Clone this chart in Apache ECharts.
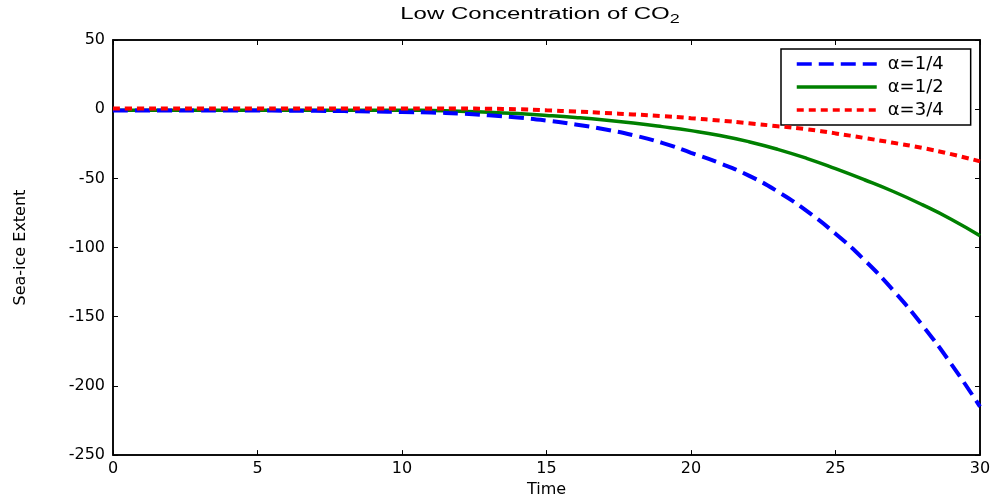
<!DOCTYPE html>
<html>
<head>
<meta charset="utf-8">
<script src="https://cdn.jsdelivr.net/npm/echarts@6/dist/echarts.min.js"></script>
<style>html,body{margin:0;padding:0;background:#fff}#c{width:997px;height:503px}</style>
</head>
<body>
<div id="c"></div>
<script>
var times = [0,1,2,3,4,5,6,7,8,9,10,11,12,13,14,15,16,17,18,19,20,21,22,23,24,25,26,27,28,29,30];
var alphaQuarter = [-1,-1,-1,-1,-1,-1,-1.1,-1.2,-1.4,-1.7,-2,-2.4,-3.2,-4.4,-6,-8.2,-11,-14.5,-18.8,-24.3,-31.5,-39,-48,-59.5,-73.5,-90,-109,-131,-156,-184,-215];
var alphaHalf = [-0.7,-0.7,-0.7,-0.7,-0.7,-0.7,-0.7,-0.7,-0.7,-0.7,-0.7,-1,-1.5,-2.2,-3.2,-4.5,-6,-7.8,-10,-12.6,-15.5,-19,-23.5,-29,-35.5,-43,-51,-59.5,-69,-79.5,-91.5];
var alphaThreeQuarter = [0.5,0.5,0.5,0.5,0.5,0.5,0.5,0.5,0.5,0.5,0.5,0.5,0.5,0.3,0,-0.8,-1.7,-2.7,-3.8,-5,-6.5,-8.2,-10.2,-12.3,-14.5,-17.5,-20.8,-24.3,-28,-32.5,-37.7];
var seriesNames = ['\u03b1=1/4', '\u03b1=1/2', '\u03b1=3/4'];
var xTicks = [0,5,10,15,20,25,30];
var yTicks = [-250,-200,-150,-100,-50,0,50];
var titleText = 'Low Concentration of CO';
var titleSub = '2';

function pairs(vals){ return times.map(function(t,i){ return [t, vals[i]]; }); }

var font = 'Liberation Sans, Arial, Helvetica, sans-serif';
var tickFont = 'DejaVu Sans, sans-serif';
var chart = echarts.init(document.getElementById('c'), null, {renderer:'canvas'});
var axisCommon = {
  axisLine:{show:true, onZero:false, lineStyle:{color:'#000', width:1.5}},
  axisTick:{show:true, inside:true, length:5, lineStyle:{color:'#000', width:1}},
  splitLine:{show:false}
};
chart.setOption({
  animation:false,
  backgroundColor:'#fff',
  graphic:[{
    type:'text', x:540, y:15, scaleX:1.5, scaleY:1, z:10,
    style:{
      text:titleText + '{sub|' + titleSub + '}',
      font:'16px ' + font, fill:'#000', align:'center', verticalAlign:'middle',
      rich:{sub:{fontFamily:font, fontSize:12, fill:'#000', padding:[9,0,0,0]}}
    }
  }],
  grid:{left:113, right:17, top:40, bottom:44, show:true, borderColor:'#000', borderWidth:1.5, containLabel:false},
  legend:{
    orient:'vertical', left:781, top:49,
    data:seriesNames,
    backgroundColor:'#fff', borderColor:'#000', borderWidth:1.5,
    padding:[6,27,6,14], itemGap:5, itemWidth:80, itemHeight:14,
    itemStyle:{opacity:0},
    lineStyle:{width:3.5},
    textStyle:{fontFamily:tickFont, fontSize:18, color:'#000', padding:[2,0,0,6]}
  },
  xAxis:[
    Object.assign({type:'value', min:xTicks[0], max:xTicks[xTicks.length-1], interval:5, position:'bottom',
      name:'Time', nameLocation:'middle', nameGap:26,
      nameTextStyle:{fontFamily:tickFont, fontSize:16, color:'#000'},
      axisLabel:{fontFamily:tickFont, fontSize:16, color:'#000', margin:6}}, axisCommon),
    Object.assign({type:'value', min:xTicks[0], max:xTicks[xTicks.length-1], interval:5, position:'top',
      axisLabel:{show:false}}, axisCommon)
  ],
  yAxis:[
    Object.assign({type:'value', min:yTicks[0], max:yTicks[yTicks.length-1], interval:50, position:'left',
      name:'Sea-ice Extent', nameLocation:'middle', nameGap:84, nameRotate:90,
      nameTextStyle:{fontFamily:tickFont, fontSize:16, color:'#000'},
      axisLabel:{fontFamily:tickFont, fontSize:16, color:'#000', margin:8}}, axisCommon),
    Object.assign({type:'value', min:yTicks[0], max:yTicks[yTicks.length-1], interval:50, position:'right',
      axisLabel:{show:false}}, axisCommon)
  ],
  series:[
    {name:seriesNames[0], type:'line', data:pairs(alphaQuarter), showSymbol:false, symbol:'none', smooth:true,
      itemStyle:{color:'#0000ff'}, lineStyle:{color:'#0000ff', width:4, type:[15,7]}, z:3},
    {name:seriesNames[1], type:'line', data:pairs(alphaHalf), showSymbol:false, symbol:'none', smooth:true,
      itemStyle:{color:'#008000'}, lineStyle:{color:'#008000', width:3.5, type:'solid'}, z:2},
    {name:seriesNames[2], type:'line', data:pairs(alphaThreeQuarter), showSymbol:false, symbol:'none', smooth:true,
      itemStyle:{color:'#ff0000'}, lineStyle:{color:'#ff0000', width:4, type:[7,5]}, z:4}
  ]
});
</script>
</body>
</html>
